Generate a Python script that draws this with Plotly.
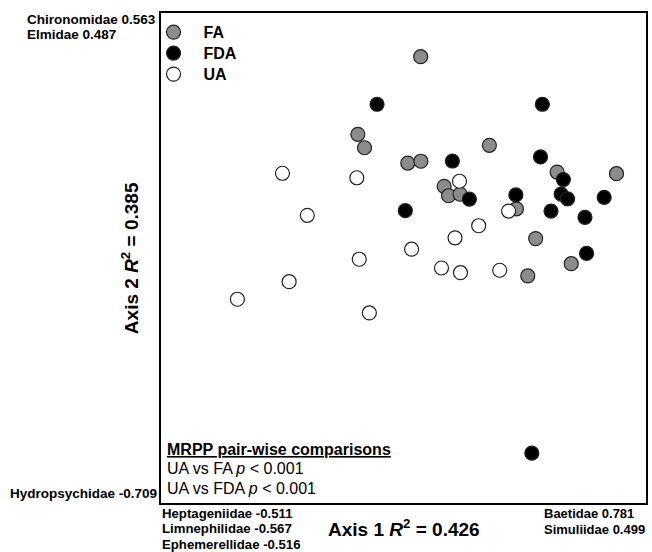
import plotly.graph_objects as go

# NMS ordination scores (arbitrary units, axis range -1.2..1.2)
fa_x = [0.085, -0.226, -0.193, 0.021, 0.086, 0.425, 0.201, 0.223, 0.280, 0.760, 1.054, 0.559, 0.654, 0.830, 0.615]
fa_y = [0.986, 0.606, 0.540, 0.465, 0.474, 0.552, 0.351, 0.305, 0.313, 0.421, 0.413, 0.241, 0.095, -0.028, -0.088]

fda_x = [-0.131, 0.687, 0.242, 0.678, 0.791, 0.326, 0.556, 0.780, 0.812, 0.993, 0.009, 0.730, 0.898, 0.906, 0.635]
fda_y = [0.753, 0.753, 0.475, 0.495, 0.384, 0.288, 0.309, 0.313, 0.290, 0.297, 0.232, 0.230, 0.199, 0.023, -0.956]

ua_x = [-0.599, -0.231, 0.277, -0.476, 0.520, 0.372, 0.255, 0.040, -0.219, 0.188, 0.282, 0.476, -0.566, -0.822, -0.169]
ua_y = [0.415, 0.393, 0.376, 0.209, 0.230, 0.158, 0.099, 0.043, -0.006, -0.049, -0.072, -0.060, -0.116, -0.202, -0.269]

group_names = ["FA", "FDA", "UA"]
group_fill = ["#8c8c8c", "#000000", "#ffffff"]

# taxa correlated with the ordination axes
top_taxa = ["Chironomidae 0.563", "Elmidae 0.487"]
bottom_left_taxa = ["Hydropsychidae -0.709"]
axis1_neg_taxa = ["Heptageniidae -0.511", "Limnephilidae -0.567", "Ephemerellidae -0.516"]
axis1_pos_taxa = ["Baetidae 0.781", "Simuliidae 0.499"]
mrpp_lines = ["<b><u>MRPP pair-wise comparisons</u></b>",
              "UA vs FA <i>p</i> &lt; 0.001",
              "UA vs FDA <i>p</i> &lt; 0.001"]

FONT = "Liberation Sans, Arial, sans-serif"

# plot-area geometry in pixels (for placing annotations)
L, T, W, H = 161, 13, 487, 490


def px(xp):
    return (xp - L) / W


def py(yp):
    return 1 - (yp - T) / H


legend_ids = ["legend", "legend2", "legend3"]
legend_centers = [31, 52, 73]

fig = go.Figure()
for name, xs, ys, col, lg in zip(group_names, [fa_x, fda_x, ua_x], [fa_y, fda_y, ua_y], group_fill, legend_ids):
    fig.add_trace(go.Scatter(
        x=xs, y=ys, mode="markers", name=name, legend=lg,
        marker=dict(size=14, color=col, line=dict(color="#222222", width=1.2)),
    ))

axis_common = dict(showgrid=False, zeroline=False, showticklabels=False, ticks="",
                   showline=True, linecolor="black", linewidth=2, mirror=True)
fig.update_xaxes(range=[-1.2, 1.2], **axis_common)
fig.update_yaxes(range=[-1.2, 1.2], **axis_common)

annotations = [
    dict(text="Axis 1 <i>R</i><sup>2</sup> = 0.426", x=px(405), y=py(528), xanchor="center", yanchor="middle",
         font=dict(size=19, weight="bold")),
    dict(text="Axis 2 <i>R</i><sup>2</sup> = 0.385", x=px(130), y=py(258), xanchor="center", yanchor="middle",
         textangle=-90, font=dict(size=19, weight="bold")),
]
for txt, yc in zip(top_taxa, [20, 35]):
    annotations.append(dict(text=txt, x=px(25), y=py(yc), xanchor="left", yanchor="middle",
                            font=dict(size=13.5, weight="bold")))
for txt, yc in zip(bottom_left_taxa, [493]):
    annotations.append(dict(text=txt, x=px(158), y=py(yc), xanchor="right", yanchor="middle",
                            font=dict(size=13.5, weight="bold")))
for txt, yc in zip(axis1_neg_taxa, [513, 528.5, 544]):
    annotations.append(dict(text=txt, x=px(161), y=py(yc), xanchor="left", yanchor="middle",
                            font=dict(size=13.2, weight="bold")))
for txt, yc in zip(axis1_pos_taxa, [513, 529]):
    annotations.append(dict(text=txt, x=px(545), y=py(yc), xanchor="left", yanchor="middle",
                            font=dict(size=13, weight="bold")))
for txt, yc in zip(mrpp_lines, [449, 468, 488]):
    annotations.append(dict(text=txt, x=px(166), y=py(yc), xanchor="left", yanchor="middle",
                            font=dict(size=16)))

for a in annotations:
    a.update(xref="paper", yref="paper", showarrow=False, borderpad=0)
    a["font"].update(family=FONT, color="black")

legend_style = dict(x=-0.036, xanchor="left", yanchor="top", itemwidth=50,
                    bgcolor="rgba(0,0,0,0)", font=dict(size=16, weight="bold", family=FONT, color="black"))

# the legend marker centre sits about 15.8 px below the legend's top edge
legend_layout = {}
for lg, yc in zip(legend_ids, legend_centers):
    legend_layout[lg] = dict(y=py(yc - 15.8), **legend_style)

fig.update_layout(
    width=652, height=552,
    margin=dict(l=L, r=652 - L - W, t=T, b=552 - T - H),
    paper_bgcolor="white", plot_bgcolor="white",
    font=dict(family=FONT, color="black"),
    showlegend=True,
    annotations=annotations,
    **legend_layout,
)

fig.write_html("out.html", config={"displayModeBar": False},
               post_script="document.body.style.margin='0';")
